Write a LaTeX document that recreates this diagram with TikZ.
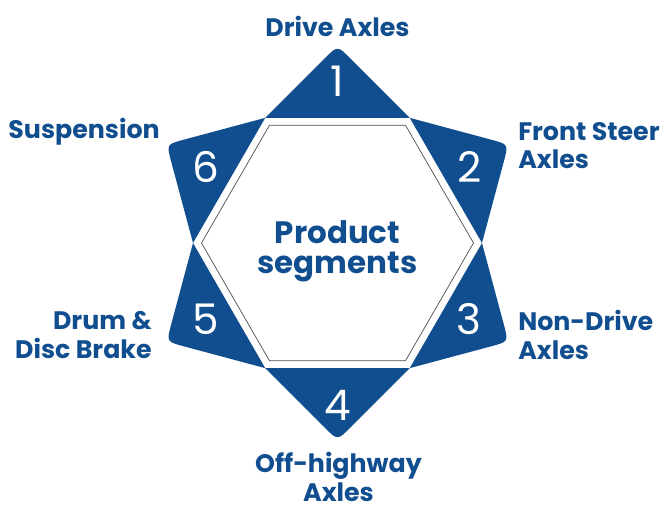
\documentclass[tikz,border=0pt]{standalone}
\usepackage{fontspec}
\setmainfont{Poppins}
\usetikzlibrary{calc}
\definecolor{segblue}{RGB}{17,78,143}
\newcommand{\Rout}{3.6125}
\newcommand{\Rin}{3.4}
\tikzset{
  seg/.style={fill=segblue},
  hexline/.style={draw=black!70, line width=0.5pt},
  num/.style={text=white, inner sep=0pt, font=\fontsize{30}{30}\selectfont},
  lbl/.style={text=segblue, inner sep=0pt, font=\fontsize{18}{20}\selectfont\bfseries},
  ttl/.style={text=segblue, inner sep=0pt, align=center, font=\fontsize{22}{21.5}\selectfont\bfseries},
}
\begin{document}
\begin{tikzpicture}
  \useasboundingbox (-8.4375,-6.575) rectangle (8.2625,6.075);

  %% --- star points (one on each side of the hexagon) ---
  \foreach \a/\n in {90/1,30/2,-30/3,-90/4,-150/5,150/6} {
    \coordinate (b\n) at ({\a-30}:\Rout);
    \coordinate (c\n) at ({\a+30}:\Rout);
    \coordinate (t\n) at (\a:4.935);
    \fill[seg] (b\n) -- ($(t\n)!0.45cm!(b\n)$) .. controls (t\n) .. ($(t\n)!0.45cm!(c\n)$) -- (c\n) -- cycle;
  }

  %% --- inner hexagon ---
  \draw[hexline] (0:\Rin) -- (60:\Rin) -- (120:\Rin) -- (180:\Rin) -- (240:\Rin) -- (300:\Rin) -- cycle;
  \node[ttl] (title) at (0,-0.2) {Product\\segments};

  % numbers
  \node[num] (n1) at (90:4.05) {1};
  \node[num] (n2) at (30:3.8) {2};
  \node[num] (n3) at (-30:3.8) {3};
  \node[num] (n4) at (-90:4.05) {4};
  \node[num] (n5) at (-150:3.8) {5};
  \node[num] (n6) at (150:3.8) {6};

  % labels
  \node[lbl] (drive) at (0,5.42) {Drive Axles};
  \node[lbl, align=left, anchor=west] (front) at (4.5125,2.425) {Front Steer\\Axles};
  \node[lbl, align=left, anchor=west] (nondrive) at (4.5125,-2.3) {Non-Drive\\Axles};
  \node[lbl, align=center] (offhw) at (0.025,-5.85) {Off-highway\\Axles};
  \node[lbl, align=right, anchor=east] (drum) at (-4.6375,-2.3) {Drum \&\\Disc Brake};
  \node[lbl, anchor=east] (susp) at (-4.4375,2.775) {Suspension};
\end{tikzpicture}
\end{document}
